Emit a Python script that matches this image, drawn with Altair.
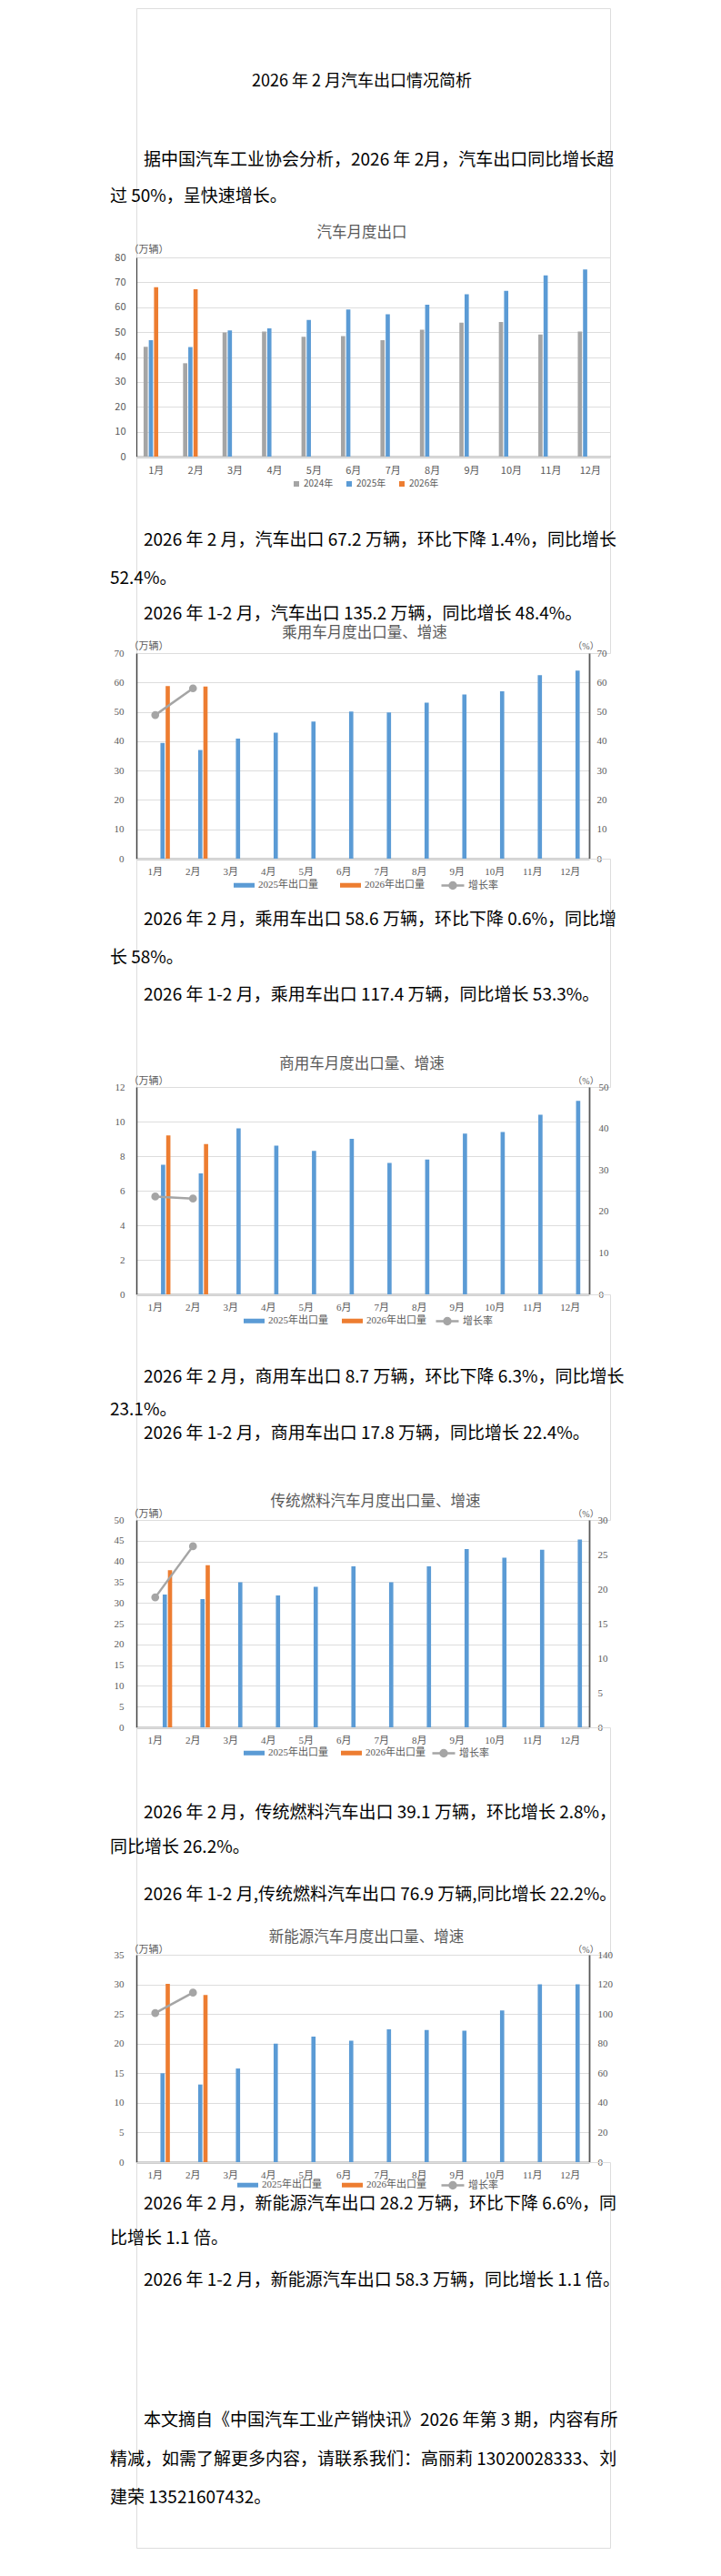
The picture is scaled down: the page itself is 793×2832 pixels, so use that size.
import altair as alt
import pandas as pd

# ---------------- data ----------------
months = ["1月", "2月", "3月", "4月", "5月", "6月", "7月", "8月", "9月", "10月", "11月", "12月"]

# 汽车月度出口 (万辆)
exp_2024 = [44.1, 37.5, 49.9, 50.2, 48.1, 48.4, 46.8, 51.0, 53.8, 54.1, 49.0, 50.2]
exp_2025 = [46.8, 44.0, 50.7, 51.5, 54.9, 59.1, 57.2, 61.0, 65.2, 66.6, 72.8, 75.2]
exp_2026 = [68.0, 67.2]
exp_series = ["2024年", "2025年", "2026年"]
exp_ticks = [0, 10, 20, 30, 40, 50, 60, 70, 80]

# 乘用车
pv_2025 = [39.4, 37.0, 40.9, 42.9, 46.7, 50.1, 49.8, 53.1, 55.9, 57.0, 62.5, 64.0]
pv_2026 = [58.8, 58.6]
pv_growth = [48.9, 58.0]
pv_ticks = [0, 10, 20, 30, 40, 50, 60, 70]
pv_rticks = [0, 10, 20, 30, 40, 50, 60, 70]

# 商用车
cv_2025 = [7.5, 7.0, 9.6, 8.6, 8.3, 9.0, 7.6, 7.8, 9.3, 9.4, 10.4, 11.2]
cv_2026 = [9.2, 8.7]
cv_growth = [23.6, 23.1]
cv_ticks = [0, 2, 4, 6, 8, 10, 12]
cv_rticks = [0, 10, 20, 30, 40, 50]

# 传统燃料汽车
ice_2025 = [32.0, 30.9, 35.0, 31.8, 33.9, 38.8, 35.0, 38.8, 43.0, 40.9, 42.8, 45.3]
ice_2026 = [37.9, 39.1]
ice_growth = [18.8, 26.2]
ice_ticks = [0, 5, 10, 15, 20, 25, 30, 35, 40, 45, 50]
ice_rticks = [0, 5, 10, 15, 20, 25, 30]

# 新能源汽车
nev_2025 = [15.0, 13.1, 15.8, 20.0, 21.2, 20.5, 22.4, 22.3, 22.2, 25.6, 30.0, 30.0]
nev_2026 = [30.1, 28.2]
nev_growth = [100.6, 114.4]
nev_ticks = [0, 5, 10, 15, 20, 25, 30, 35]
nev_rticks = [0, 20, 40, 60, 80, 100, 120, 140]

series2 = ["2025年出口量", "2026年出口量"]
growth_name = ["增长率"]

# ---------------- text ----------------
page_title = "2026 年 2 月汽车出口情况简析"
intro = ["据中国汽车工业协会分析，2026 年 2月，汽车出口同比增长超", "过 50%，呈快速增长。"]
text1 = ["2026 年 2 月，汽车出口 67.2 万辆，环比下降 1.4%，同比增长", "52.4%。",
         "2026 年 1-2 月，汽车出口 135.2 万辆，同比增长 48.4%。"]
text2 = ["2026 年 2 月，乘用车出口 58.6 万辆，环比下降 0.6%，同比增", "长 58%。",
         "2026 年 1-2 月，乘用车出口 117.4 万辆，同比增长 53.3%。"]
text3 = ["2026 年 2 月，商用车出口 8.7 万辆，环比下降 6.3%，同比增长", "23.1%。",
         "2026 年 1-2 月，商用车出口 17.8 万辆，同比增长 22.4%。"]
text4 = ["2026 年 2 月，传统燃料汽车出口 39.1 万辆，环比增长 2.8%，", "同比增长 26.2%。",
         "2026 年 1-2 月,传统燃料汽车出口 76.9 万辆,同比增长 22.2%。"]
text5 = ["2026 年 2 月，新能源汽车出口 28.2 万辆，环比下降 6.6%，同", "比增长 1.1 倍。",
         "2026 年 1-2 月，新能源汽车出口 58.3 万辆，同比增长 1.1 倍。"]
footer = ["本文摘自《中国汽车工业产销快讯》2026 年第 3 期，内容有所",
          "精减，如需了解更多内容，请联系我们：高丽莉 13020028333、刘",
          "建荣 13521607432。"]
chart_titles = ["汽车月度出口", "乘用车月度出口量、增速", "商用车月度出口量、增速",
                "传统燃料汽车月度出口量、增速", "新能源汽车月度出口量、增速"]

# ---------------- styles ----------------
SANS = "Noto Sans CJK SC"
SERIF = "Liberation Serif, Noto Sans CJK SC"
GRAY = "#A5A5A5"
BLUE = "#5B9BD5"
ORANGE = "#ED7D31"
LBL = "#595959"
AXC = "#404040"
W1 = 521
W2 = 498
WIDE_RECT = "M-1,-0.22L1,-0.22L1,0.22L-1,0.22Z"
LINE_SYM = "M-1,0L1,0M-0.28,0A0.28,0.28,0,1,0,0.28,0A0.28,0.28,0,1,0,-0.28,0Z"


def text_block(items, height):
    layers = []
    for s, x, y, size, color, align in items:
        layers.append(
            alt.Chart(pd.DataFrame({"t": [s]}))
            .mark_text(align=align, baseline="middle", font=SANS, fontSize=size, color=color)
            .encode(text="t:N", x=alt.value(x), y=alt.value(y))
        )
    return alt.layer(*layers).properties(width=W1, height=height)


def para(lines, y0, gap12, gap23):
    return [
        (lines[0], 8, y0, 19, "#000000", "left"),
        (lines[1], -29, y0 + gap12, 19, "#000000", "left"),
        (lines[2], 8, y0 + gap12 + gap23, 19, "#000000", "left"),
    ]


def ctitle(s, xpage, y):
    return (s, xpage - 149, y, 16.5, LBL, "center")


# ---------------- chart 1 ----------------
c1_df = pd.DataFrame({
    "month": months + months + months[:2],
    "series": [exp_series[0]] * 12 + [exp_series[1]] * 12 + [exp_series[2]] * 2,
    "value": exp_2024 + exp_2025 + exp_2026,
})
x1 = alt.X("month:N", sort=months,
           scale=alt.Scale(domain=months, paddingInner=0.34, paddingOuter=0.17),
           axis=alt.Axis(title=None, labelAngle=0, ticks=False, labelPadding=9, labelFont=SANS,
                         labelFontSize=11, labelColor=LBL, domainColor=AXC, domainWidth=1.5))
chart1 = alt.Chart(c1_df).mark_bar().encode(
    x=x1,
    xOffset=alt.XOffset("series:N", scale=alt.Scale(domain=exp_series, paddingInner=0.19, paddingOuter=0.095)),
    y=alt.Y("value:Q", scale=alt.Scale(domain=[0, 80], nice=False),
            axis=alt.Axis(values=exp_ticks, title="（万辆）", titleAngle=0, titleAlign="left",
                          titleBaseline="middle", titleX=-9, titleY=-9, titleFont=SANS, titleFontSize=11,
                          titleFontWeight="normal", titleColor=LBL, labelFont=SANS, labelFontSize=11,
                          labelColor=LBL, ticks=False, labelPadding=12, domainColor=AXC, domainWidth=1.2)),
    fill=alt.Fill("series:N", scale=alt.Scale(domain=exp_series, range=[GRAY, BLUE, ORANGE]),
                  legend=alt.Legend(title=None, orient="none", legendX=171, legendY=244, direction="horizontal",
                                    symbolType="square", symbolSize=36, labelFont=SANS, labelFontSize=10,
                                    labelColor=LBL, labelOffset=3, columnPadding=12, padding=0)),
).properties(width=W1, height=219)


# ---------------- dual-axis charts ----------------
def dual_chart(v25, v26, growth, ticks, rticks, height, pi, pi2, lab_pad, rlab_pad,
               unit_y, leg_fill_x, leg_line_x, leg_center, colpad):
    df = pd.DataFrame({
        "month": months + months[:2],
        "series": [series2[0]] * 12 + [series2[1]] * 2,
        "value": v25 + v26,
    })
    gdf = pd.DataFrame({"month": months[:2], "growth": growth, "k": growth_name * 2})
    xenc = alt.X("month:N", sort=months,
                 scale=alt.Scale(domain=months, paddingInner=pi, paddingOuter=pi / 2),
                 axis=alt.Axis(title=None, labelAngle=0, ticks=False, labelPadding=8, labelFont=SERIF,
                               labelFontSize=11, labelColor=LBL, domainColor=AXC, domainWidth=1.5))
    bars = alt.Chart(df).mark_bar().encode(
        x=xenc,
        xOffset=alt.XOffset("series:N", scale=alt.Scale(domain=series2, paddingInner=pi2, paddingOuter=pi2 / 2)),
        y=alt.Y("value:Q", scale=alt.Scale(domain=[ticks[0], ticks[-1]], nice=False),
                axis=alt.Axis(values=ticks, title="（万辆）", titleAngle=0, titleAlign="left",
                              titleBaseline="middle", titleX=-9, titleY=unit_y, titleFont=SERIF,
                              titleFontSize=11, titleFontWeight="normal", titleColor=LBL, labelFont=SERIF,
                              labelFontSize=11, labelColor=LBL, ticks=False, labelPadding=lab_pad,
                              domainColor=AXC, domainWidth=1.5)),
        fill=alt.Fill("series:N", scale=alt.Scale(domain=series2, range=[BLUE, ORANGE]),
                      legend=alt.Legend(title=None, orient="none", legendX=leg_fill_x, legendY=leg_center - 11.5,
                                        direction="horizontal", symbolType=WIDE_RECT, symbolSize=529,
                                        labelFont=SERIF, labelFontSize=11, labelColor=LBL, labelOffset=3,
                                        columnPadding=colpad, padding=0)),
    )
    yr = alt.Y("growth:Q", scale=alt.Scale(domain=[rticks[0], rticks[-1]], nice=False),
               axis=alt.Axis(orient="right", values=rticks, title="（%）", titleAngle=0, titleAlign="center",
                             titleBaseline="middle", titleX=-4, titleY=unit_y, titleFont=SERIF,
                             titleFontSize=10, titleFontWeight="normal", titleColor=LBL, labelFont=SERIF,
                             labelFontSize=11, labelColor=LBL, ticks=False, labelPadding=rlab_pad,
                             domainColor="#595959", domainWidth=1.8))
    line = alt.Chart(gdf).mark_line(color=GRAY, strokeWidth=2.5).encode(x=xenc, y=yr)
    pts = alt.Chart(gdf).mark_circle(size=45, color=GRAY, opacity=1).encode(
        x=xenc, y=yr,
        stroke=alt.Stroke("k:N", scale=alt.Scale(domain=growth_name, range=[GRAY]),
                          legend=alt.Legend(title=None, orient="none", legendX=leg_line_x,
                                            legendY=leg_center - 12.5, direction="horizontal",
                                            symbolType=LINE_SYM, symbolSize=625, symbolStrokeWidth=2.5,
                                            symbolFillColor=GRAY, labelFont=SERIF, labelFontSize=11,
                                            labelColor=LBL, labelOffset=3, padding=0)),
    )
    return alt.layer(bars, alt.layer(line, pts)).resolve_scale(y="independent").properties(
        width=W2, height=height)


chart2 = dual_chart(pv_2025, pv_2026, pv_growth, pv_ticks, pv_rticks, 226, 0.42, 0.22, 14, 8,
                    -8, 106, 334, 254, 23)
chart3 = dual_chart(cv_2025, cv_2026, cv_growth, cv_ticks, cv_rticks, 228, 0.45, 0.17, 13, 10,
                    -7, 117, 328, 256, 14)
chart4 = dual_chart(ice_2025, ice_2026, ice_growth, ice_ticks, ice_rticks, 228, 0.54, 0.0, 14, 9,
                    -7, 117, 324, 255, 13)
chart5 = dual_chart(nev_2025, nev_2026, nev_growth, nev_ticks, nev_rticks, 228, 0.42, 0.19, 14, 9,
                    -6, 110, 334, 252, 21)

# ---------------- text blocks ----------------
b0 = text_block([
    (page_title, 248, 81, 18, "#000000", "center"),
    (intro[0], 8, 167, 19, "#000000", "left"),
    (intro[1], -29, 207, 19, "#000000", "left"),
    ctitle(chart_titles[0], 397, 247),
], 274)
b1 = text_block(para(text1, 92, 42, 39) + [ctitle(chart_titles[1], 400, 194)], 216)
b2 = text_block(para(text2, 67, 42, 41) + [ctitle(chart_titles[2], 397, 226)], 251)
b3 = text_block(para(text3, 91, 36, 26) + [ctitle(chart_titles[3], 412, 228)], 248)
b4 = text_block(para(text4, 94, 38, 52) + [ctitle(chart_titles[4], 402, 231)], 250)
b5 = text_block(para(text5, 46, 38, 46) + [
    (footer[0], 8, 284, 19, "#000000", "left"),
    (footer[1], -29, 327, 19, "#000000", "left"),
    (footer[2], -29, 369, 19, "#000000", "left"),
], 424)

chart = alt.vconcat(
    b0, chart1, b1, chart2, b2, chart3, b3, chart4, b4, chart5, b5,
    spacing=0, bounds="flush",
).resolve_scale(
    x="independent", y="independent", fill="independent", stroke="independent"
).resolve_legend(
    fill="independent", stroke="independent"
).properties(
    padding={"left": 112, "top": 0, "right": 0, "bottom": 0}
).configure_view(stroke=None).configure_axis(grid=False).configure(font=SANS, background="white")

chart.save("out.html", embed_options={"renderer": "svg", "actions": False})
